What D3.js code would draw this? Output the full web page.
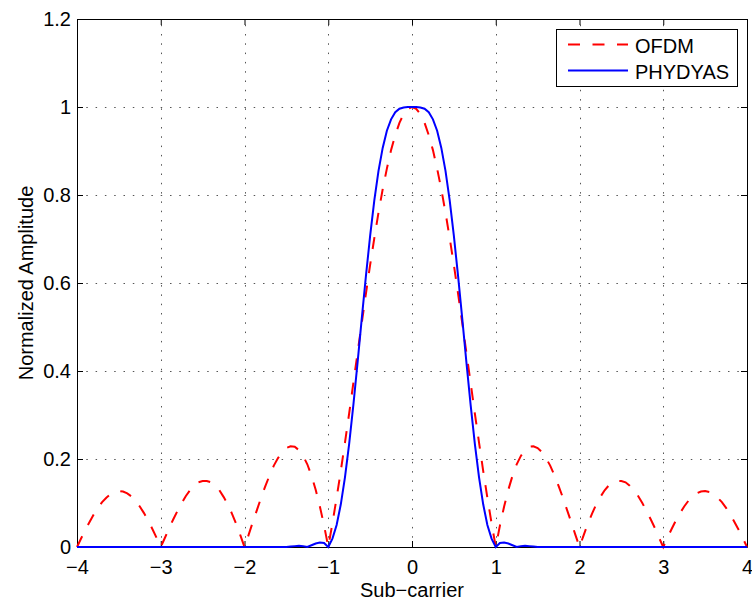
<!DOCTYPE html>
<html>
<head>
<meta charset="utf-8">
<script src="https://cdn.jsdelivr.net/npm/d3@7"></script>
<style>
  html, body { margin: 0; padding: 0; background: #fff; }
  svg { display: block; }
  text { font-family: "Liberation Sans", Arial, Helvetica, sans-serif; fill: #000; }
</style>
</head>
<body>
<svg id="chart" width="752" height="604"></svg>
<script>
// ---- data ----
const subcarrier = [
  -4.00,-3.95,-3.90,-3.85,-3.80,-3.75,-3.70,-3.65,-3.60,-3.55,-3.50,-3.45,-3.40,-3.35,-3.30,-3.25,-3.20,-3.15,-3.10,-3.05,
  -3.00,-2.95,-2.90,-2.85,-2.80,-2.75,-2.70,-2.65,-2.60,-2.55,-2.50,-2.45,-2.40,-2.35,-2.30,-2.25,-2.20,-2.15,-2.10,-2.05,
  -2.00,-1.95,-1.90,-1.85,-1.80,-1.75,-1.70,-1.65,-1.60,-1.55,-1.50,-1.45,-1.40,-1.35,-1.30,-1.25,-1.20,-1.15,-1.10,-1.05,
  -1.00,-0.95,-0.90,-0.85,-0.80,-0.75,-0.70,-0.65,-0.60,-0.55,-0.50,-0.45,-0.40,-0.35,-0.30,-0.25,-0.20,-0.15,-0.10,-0.05,
   0.00,
   0.05, 0.10, 0.15, 0.20, 0.25, 0.30, 0.35, 0.40, 0.45, 0.50, 0.55, 0.60, 0.65, 0.70, 0.75, 0.80, 0.85, 0.90, 0.95, 1.00,
   1.05, 1.10, 1.15, 1.20, 1.25, 1.30, 1.35, 1.40, 1.45, 1.50, 1.55, 1.60, 1.65, 1.70, 1.75, 1.80, 1.85, 1.90, 1.95, 2.00,
   2.05, 2.10, 2.15, 2.20, 2.25, 2.30, 2.35, 2.40, 2.45, 2.50, 2.55, 2.60, 2.65, 2.70, 2.75, 2.80, 2.85, 2.90, 2.95, 3.00,
   3.05, 3.10, 3.15, 3.20, 3.25, 3.30, 3.35, 3.40, 3.45, 3.50, 3.55, 3.60, 3.65, 3.70, 3.75, 3.80, 3.85, 3.90, 3.95, 4.00
];

const ofdm = [
  0.000,0.020,0.039,0.057,0.074,0.089,0.102,0.112,0.120,0.125,0.127,0.126,0.122,0.115,0.105,0.092,0.077,0.060,0.041,0.021,
  0.000,0.021,0.043,0.063,0.082,0.100,0.116,0.129,0.139,0.147,0.150,0.150,0.147,0.140,0.129,0.114,0.097,0.076,0.053,0.027,
  0.000,0.028,0.057,0.085,0.113,0.139,0.163,0.185,0.202,0.216,0.225,0.229,0.228,0.220,0.207,0.188,0.162,0.130,0.092,0.049,
  0.000,0.054,0.112,0.173,0.238,0.304,0.373,0.441,0.509,0.576,0.641,0.702,0.760,0.813,0.860,0.902,0.936,0.964,0.984,0.996,
  1.000,
  0.996,0.984,0.964,0.936,0.902,0.860,0.813,0.760,0.702,0.641,0.576,0.509,0.441,0.373,0.304,0.238,0.173,0.112,0.054,0.000,
  0.049,0.092,0.130,0.162,0.188,0.207,0.220,0.228,0.229,0.225,0.216,0.202,0.185,0.163,0.139,0.113,0.085,0.057,0.028,0.000,
  0.027,0.053,0.076,0.097,0.114,0.129,0.140,0.147,0.150,0.150,0.147,0.139,0.129,0.116,0.100,0.082,0.063,0.043,0.021,0.000,
  0.021,0.041,0.060,0.077,0.092,0.105,0.115,0.122,0.126,0.127,0.125,0.120,0.112,0.102,0.089,0.074,0.057,0.039,0.020,0.000
];

const phydyas = [
  0.000,0.000,0.000,0.000,0.000,0.000,0.000,0.000,0.000,0.000,0.000,0.000,0.000,0.000,0.000,0.000,0.000,0.000,0.000,0.000,
  0.000,0.000,0.000,0.000,0.000,0.000,0.000,0.000,0.000,0.000,0.000,0.000,0.000,0.000,0.000,0.000,0.000,0.000,0.000,0.000,
  0.000,0.000,0.000,0.000,0.000,0.000,0.000,0.000,0.000,0.000,0.000,0.001,0.002,0.003,0.002,0.000,0.004,0.008,0.010,0.009,
  0.000,0.019,0.050,0.097,0.159,0.235,0.323,0.419,0.519,0.616,0.707,0.788,0.855,0.907,0.946,0.972,0.988,0.996,0.999,1.000,
  1.000,
  1.000,0.999,0.996,0.988,0.972,0.946,0.907,0.855,0.788,0.707,0.616,0.519,0.419,0.323,0.235,0.159,0.097,0.050,0.019,0.000,
  0.009,0.010,0.008,0.004,0.000,0.002,0.003,0.002,0.001,0.000,0.000,0.000,0.000,0.000,0.000,0.000,0.000,0.000,0.000,0.000,
  0.000,0.000,0.000,0.000,0.000,0.000,0.000,0.000,0.000,0.000,0.000,0.000,0.000,0.000,0.000,0.000,0.000,0.000,0.000,0.000,
  0.000,0.000,0.000,0.000,0.000,0.000,0.000,0.000,0.000,0.000,0.000,0.000,0.000,0.000,0.000,0.000,0.000,0.000,0.000,0.000
];

const xTicks = [-4, -3, -2, -1, 0, 1, 2, 3, 4];
const xTickLabels = ["\u22124", "\u22123", "\u22122", "\u22121", "0", "1", "2", "3", "4"];
const yTicks = [0, 0.2, 0.4, 0.6, 0.8, 1.0, 1.2];
const yTickLabels = ["0", "0.2", "0.4", "0.6", "0.8", "1", "1.2"];
const seriesNames = ["OFDM", "PHYDYAS"];
const xLabel = "Sub\u2212carrier";
const yLabel = "Normalized Amplitude";

// ---- layout ----
const W = 752, H = 604;
const margin = { left: 77, right: 5, top: 19, bottom: 57 };
const x0 = margin.left, x1 = W - margin.right;
const y0 = H - margin.bottom, y1 = margin.top;

const x = d3.scaleLinear().domain([-4, 4]).range([x0, x1]);
const y = d3.scaleLinear().domain([0, 1.2]).range([y0, y1]);

const svg = d3.select("#chart");
const FS = 20;

// grid
const grid = svg.append("g")
  .attr("stroke", "#555")
  .attr("stroke-width", 1)
  .attr("stroke-dasharray", "1.5,7.8");
xTicks.slice(1, -1).forEach(t => {
  grid.append("line")
    .attr("x1", Math.round(x(t)) + 0.5).attr("x2", Math.round(x(t)) + 0.5)
    .attr("y1", y0).attr("y2", y1);
});
yTicks.slice(1, -1).forEach(t => {
  grid.append("line")
    .attr("x1", x0).attr("x2", x1)
    .attr("y1", Math.round(y(t)) + 0.5).attr("y2", Math.round(y(t)) + 0.5);
});

// axes (box with inner ticks on all sides)
const tickLen = 6;
const axisBottom = d3.axisBottom(x).tickValues(xTicks).tickSizeInner(-tickLen).tickSizeOuter(0)
  .tickPadding(13).tickFormat((d, i) => xTickLabels[i]);
const axisTop = d3.axisTop(x).tickValues(xTicks).tickSizeInner(-tickLen).tickSizeOuter(0).tickFormat("");
const axisLeft = d3.axisLeft(y).tickValues(yTicks).tickSizeInner(-tickLen).tickSizeOuter(0)
  .tickPadding(6).tickFormat((d, i) => yTickLabels[i]);
const axisRight = d3.axisRight(y).tickValues(yTicks).tickSizeInner(-tickLen).tickSizeOuter(0).tickFormat("");

function styleAxis(g) {
  g.select(".domain").attr("stroke", "#000").attr("stroke-width", 1);
  g.selectAll(".tick line").attr("stroke", "#000").attr("stroke-width", 1);
  g.selectAll(".tick text").attr("font-size", FS)
    .attr("font-family", "'Liberation Sans', Arial, Helvetica, sans-serif").attr("fill", "#000");
}

svg.append("g").attr("transform", `translate(0,${y0})`).call(axisBottom).call(styleAxis);
svg.append("g").attr("transform", `translate(0,${y1})`).call(axisTop).call(styleAxis);
svg.append("g").attr("transform", `translate(${x0},0)`).call(axisLeft).call(styleAxis);
svg.append("g").attr("transform", `translate(${x1},0)`).call(axisRight).call(styleAxis);

// data lines
const line = d3.line().x(d => x(d[0])).y(d => y(d[1]));
const ofdmPts = subcarrier.map((s, i) => [s, ofdm[i]]);
const phyPts = subcarrier.map((s, i) => [s, phydyas[i]]);

svg.append("path").datum(ofdmPts)
  .attr("d", line)
  .attr("fill", "none")
  .attr("stroke", "#ff0000")
  .attr("stroke-width", 2)
  .attr("stroke-dasharray", "12,12.5");

svg.append("path").datum(phyPts)
  .attr("d", line)
  .attr("fill", "none")
  .attr("stroke", "#0000ff")
  .attr("stroke-width", 2);

// axis labels
svg.append("text")
  .attr("x", (x0 + x1) / 2).attr("y", 597)
  .attr("text-anchor", "middle").attr("font-size", FS)
  .text(xLabel);

svg.append("text")
  .attr("transform", `translate(33,${(y0 + y1) / 2}) rotate(-90)`)
  .attr("text-anchor", "middle").attr("font-size", FS)
  .text(yLabel);

// legend
const leg = svg.append("g");
leg.append("rect")
  .attr("x", 556.5).attr("y", 29.5).attr("width", 181).attr("height", 57)
  .attr("fill", "#fff").attr("stroke", "#000").attr("stroke-width", 1);
const legColors = ["#ff0000", "#0000ff"];
const legDash = ["12,12.5", null];
const legY = [44.5, 70.5];
seriesNames.forEach((name, i) => {
  leg.append("line")
    .attr("x1", 568).attr("x2", 628)
    .attr("y1", legY[i]).attr("y2", legY[i])
    .attr("stroke", legColors[i]).attr("stroke-width", 2)
    .attr("stroke-dasharray", legDash[i]);
  leg.append("text")
    .attr("x", 635).attr("y", legY[i] + 8)
    .attr("font-size", FS)
    .text(name);
});
</script>
</body>
</html>
